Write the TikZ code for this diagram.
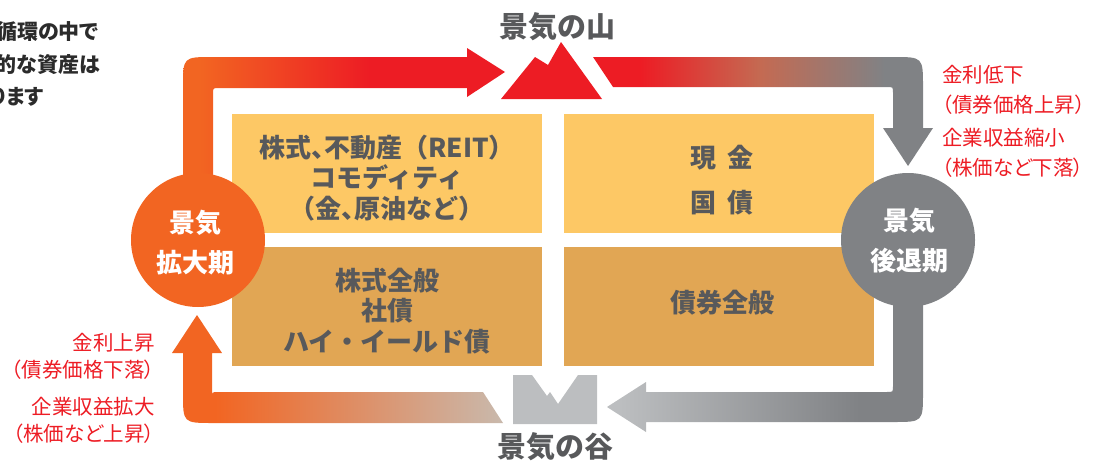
\documentclass[tikz,border=0pt]{standalone}
\usepackage{fontspec}
\newfontfamily\jp{Noto Sans CJK JP}
\newfontfamily\jpp{Noto Sans CJK JP}[RawFeature=+palt]
\definecolor{cOr}{HTML}{F26522}
\definecolor{cRed}{HTML}{ED1C24}
\definecolor{cGray}{HTML}{808285}
\definecolor{cLGray}{HTML}{BCBEC0}
\definecolor{cBeige}{HTML}{C9B9AC}
\definecolor{cBrown}{HTML}{C46A52}
\definecolor{cYel}{HTML}{FDC865}
\definecolor{cDark}{HTML}{E1A654}
\definecolor{cTxt}{HTML}{58595B}
\definecolor{cBlk}{HTML}{2B2B2B}
\pgfdeclarehorizontalshading{ulgrad}{100bp}{color(0bp)=(cOr); color(27.6bp)=(cOr); color(54bp)=(cRed); color(100bp)=(cRed)}
\pgfdeclarehorizontalshading{urgrad}{100bp}{color(0bp)=(cRed); color(31.9bp)=(cRed); color(49.6bp)=(cBrown); color(67.9bp)=(cGray); color(100bp)=(cGray)}
\pgfdeclarehorizontalshading{lrgrad}{100bp}{color(0bp)=(cLGray); color(27bp)=(cLGray); color(65bp)=(cGray); color(100bp)=(cGray)}
\pgfdeclarehorizontalshading{llgrad}{100bp}{color(0bp)=(cOr); color(31.5bp)=(cOr); color(75bp)=(cBeige); color(100bp)=(cBeige)}
\newcommand\hcomma{\makebox[0.5em][l]{、}}
\begin{document}
\begin{tikzpicture}[x=1pt,y=-1pt,
  box/.style={minimum width=310pt, minimum height=119pt, inner sep=0pt},
  boxtext/.style={inner sep=0pt, text=cTxt, align=center,
    font=\jp\bfseries\fontsize{26}{30.5}\selectfont},
  circ/.style={circle, minimum size=134pt, inner sep=0pt},
  circtext/.style={inner sep=0pt, text=white, align=center,
    font=\jp\bfseries\fontsize{26}{40}\selectfont},
  title/.style={inner sep=0pt, text=cTxt, font=\jp\bfseries\fontsize{29}{34}\selectfont},
  redlab/.style={inner sep=0pt, text=cRed, font=\jpp\fontsize{20.5}{30}\selectfont},
  intro/.style={inner sep=0pt, text=cBlk, anchor=east, font=\jpp\bfseries\fontsize{21}{25}\selectfont}]
\useasboundingbox (0,0) rectangle (1094,463);
% boxes
\node[box, fill=cYel] (tl) at (387,173.5) {};
\node[box, fill=cDark] (bl) at (387,306.5) {};
\node[box, fill=cYel] (tr) at (719,173.5) {};
\node[box, fill=cDark] (br) at (719,306.5) {};
\node[boxtext] (tlt) at (387,178) {株式\hcomma 不動産（REIT）\\コモディティ\\（金\hcomma 原油など）};
\node[boxtext] (blt) at (387,311) {株式全般\\社債\\ハイ・イールド債};
\node[boxtext, font=\jp\bfseries\fontsize{26}{45}\selectfont] (trt) at (722,180) {現\hspace{0.4em}金\\国\hspace{0.4em}債};
\node[boxtext] (brt) at (722,303) {債券全般};
% arrows
\shade[shading=ulgrad] (183,175) -- (183,87) .. controls (183,57) .. (213,57) -- (467,57) -- (467,48) -- (505,72) -- (467,97) -- (467,88) -- (219,88) .. controls (213,88) .. (213,94) -- (213,175) -- cycle;
\shade[shading=urgrad] (593,57) -- (893,57) .. controls (923,57) .. (923,87) -- (923,128) -- (933,128) -- (908,166) -- (883,128) -- (893,128) -- (893,93) .. controls (893,87) .. (887,87) -- (613,87) -- cycle;
\shade[shading=lrgrad] (923,305) -- (923,392) .. controls (923,422) .. (893,422) -- (646,422) -- (646,432) -- (607,407) -- (646,382) -- (646,392) -- (887,392) .. controls (893,392) .. (893,386) -- (893,305) -- cycle;
\shade[shading=llgrad] (503,423) -- (213,423) .. controls (183,423) .. (183,393) -- (183,353) -- (172,353) -- (197,315) -- (222,353) -- (212,353) -- (212,398) .. controls (212,392) .. (218,392) -- (483,392) -- cycle;
% mountain and valley
\fill[cRed] (501,99) -- (535,57) -- (548,65) -- (561,42) -- (602,99) -- cycle;
\fill[cLGray] (513,375) -- (532,375) -- (547,396) -- (550,392) -- (558,404) -- (578,375) -- (597,375) -- (597,424) -- (513,424) -- cycle;
% circles
\node[circ, fill=cOr] (exp) at (198,240) {};
\node[circ, fill=cGray] (rec) at (908,240) {};
\node[circtext] (expt) at (195,243) {景気\\拡大期};
\node[circtext] (rect) at (909,241) {景気\\後退期};
% titles
\node[title] (peak) at (557,27) {景気の山};
\node[title] (trough) at (555,447) {景気の谷};
% red labels
\node[redlab, anchor=west, align=left] (r1) at (942,90) {金利低下\\（債券価格上昇）};
\node[redlab, anchor=west, align=left] (r2) at (942,152.5) {企業収益縮小\\（株価など下落）};
\node[redlab, anchor=east, align=right, font=\jpp\fontsize{20.5}{27}\selectfont] (l1) at (155,356.5) {金利上昇\\（債券価格下落）};
\node[redlab, anchor=east, align=right, font=\jpp\fontsize{20.5}{27}\selectfont] (l2) at (155,420) {企業収益拡大\\（株価など上昇）};
% clipped intro text
\node[intro] (i1) at (99,32) {循環の中で};
\node[intro] (i2) at (100,65) {的な資産は};
\node[intro] (i3) at (44,97) {あります};
\end{tikzpicture}
\end{document}
